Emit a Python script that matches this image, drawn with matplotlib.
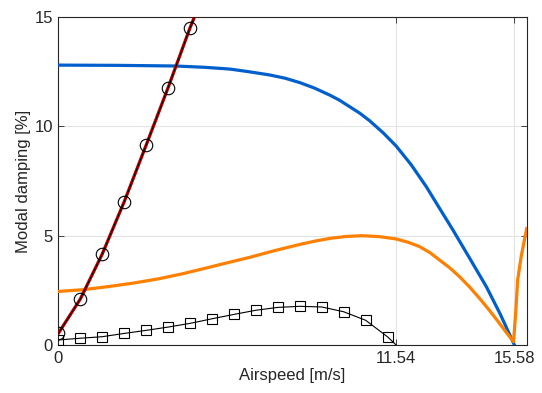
import matplotlib
matplotlib.use("Agg")
import matplotlib.pyplot as plt

plt.rcParams['font.family'] = ['Liberation Sans', 'DejaVu Sans']

# Red line with circles
red_x = [0.0, 0.75, 1.5, 2.25, 3.0, 3.75, 4.5, 4.65]
red_y = [0.53, 2.1, 4.16, 6.55, 9.14, 11.77, 14.51, 15.0]
circ_x = [0.0, 0.75, 1.5, 2.25, 3.0, 3.75, 4.5]
circ_y = [0.53, 2.1, 4.16, 6.55, 9.14, 11.77, 14.51]

# Blue line
blue_x = [0.0, 2.0, 4.0, 5.0, 5.86, 6.5, 7.22, 7.75, 8.25, 8.75, 9.27, 9.6, 9.95, 10.3,
          10.63, 11.1, 11.54, 12.05, 12.57, 13.0, 13.48, 14.05, 14.62, 15.1, 15.58]
blue_y = [12.8, 12.79, 12.76, 12.7, 12.62, 12.5, 12.35, 12.2, 12.0, 11.75, 11.43, 11.2, 10.9, 10.6,
          10.26, 9.7, 9.1, 8.25, 7.24, 6.3, 5.26, 3.97, 2.67, 1.4, 0.0]

# Orange line
orange_x = [0.0, 0.85, 1.7, 2.55, 3.4, 4.25, 5.11, 5.8, 6.54, 7.4, 8.25, 8.8, 9.3, 9.8, 10.35,
            10.95, 11.54, 11.95, 12.34, 12.7, 13.02, 13.37, 13.71, 14.05, 14.39, 14.73,
            15.07, 15.3, 15.55, 15.63, 15.69, 15.81, 15.92, 16.0]
orange_y = [2.45, 2.53, 2.67, 2.83, 3.02, 3.26, 3.54, 3.77, 4.01, 4.32, 4.6, 4.76, 4.88, 4.96, 5.0,
            4.96, 4.85, 4.7, 4.5, 4.22, 3.89, 3.53, 3.12, 2.65, 2.13, 1.58,
            0.99, 0.58, 0.15, 1.6, 2.97, 4.04, 4.8, 5.33]

# Black squares
sq_x = [0.0, 0.75, 1.5, 2.25, 3.0, 3.75, 4.5, 5.25, 6.0, 6.75, 7.5, 8.25, 9.0, 9.75, 10.5, 11.25]
sq_y = [0.23, 0.31, 0.38, 0.53, 0.67, 0.82, 0.99, 1.2, 1.4, 1.59, 1.72, 1.77, 1.74, 1.52, 1.13, 0.37]
sq_line_x = sq_x + [11.54]
sq_line_y = sq_y + [0.0]

xticks = [0, 11.54, 15.58]
xticklabels = ['0', '11.54', '15.58']
yticks = [0, 5, 10, 15]

fig = plt.figure(figsize=(5.42, 3.93), dpi=100)
ax = fig.add_axes([0.1076, 0.1221, 0.8642, 0.8346])

ax.plot(blue_x, blue_y, color='#005FCC', lw=2.3, zorder=3, solid_joinstyle='round')
ax.plot(orange_x, orange_y, color='#FF8000', lw=2.3, zorder=3, solid_joinstyle='round')
ax.plot(sq_line_x, sq_line_y, color='black', lw=0.8, zorder=4)
ax.plot(sq_x, sq_y, ls='none', marker='s', ms=6.5, mfc='none', mec='black', mew=0.8, zorder=5)
ax.plot(red_x, red_y, color='#B00000', lw=2.3, zorder=4)
ax.plot(red_x, red_y, color='black', lw=0.6, zorder=5)
ax.plot(circ_x, circ_y, ls='none', marker='o', ms=9, mfc='none', mec='black', mew=0.8, zorder=6)

ax.set_xlim(0, 16)
ax.set_ylim(0, 15)
ax.set_xticks(xticks)
ax.set_xticklabels(xticklabels)
ax.set_yticks(yticks)
ax.grid(True, color='#E3E3E3', lw=0.8)
ax.set_axisbelow(True)
ax.tick_params(direction='in', top=True, right=True, labelsize=12, colors='#262626',
               length=4, width=0.6, pad=4)
for s in ax.spines.values():
    s.set_color('#262626')
    s.set_linewidth(0.8)
ax.set_xlabel('Airspeed [m/s]', fontsize=12, color='#262626', labelpad=2)
ax.set_ylabel('Modal damping [%]', fontsize=12, color='#262626', labelpad=2)

fig.savefig('out.png', dpi=100)
